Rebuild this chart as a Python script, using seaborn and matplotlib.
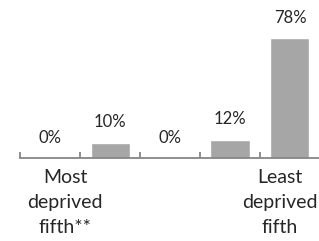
import numpy as np
import pandas as pd
import matplotlib
matplotlib.use("Agg")
import matplotlib.pyplot as plt
import seaborn as sns

# ── Data ────────────────────────────────────────────
categories = ["Q1", "Q2", "Q3", "Q4", "Q5"]
values     = [0, 10, 0, 12, 78]
value_labels = ["0%", "10%", "0%", "12%", "78%"]
cat_labels   = ["Most\ndeprived\nfifth**", "", "", "", "Least\ndeprived\nfifth"]
label_pos    = [0.25, 0, 0, 0, 3.83]   # label centres (shifted like the original)

BAR   = "#A6A6A6"
AXIS  = "#868686"
TEXT  = "#262626"

sns.set_style("white")
plt.rcParams["font.family"] = ["Lato", "DejaVu Sans"]

df = pd.DataFrame({"cat": categories, "val": values})

fig = plt.figure(figsize=(3.19, 2.41), dpi=100)
ax = fig.add_axes([20/319, (241-158)/241, 300/319, 120/241])

sns.barplot(data=df, x="cat", y="val", color=BAR, width=0.65,
            saturation=1, ax=ax)

ax.set_xlim(-0.5, 4.5)
ax.set_ylim(0, 78)
ax.set_xlabel(""); ax.set_ylabel("")
ax.set_yticks([])
ax.set_xticks(np.arange(len(categories) + 1) - 0.5)
ax.set_xticklabels([])
ax.tick_params(axis="x", bottom=True, direction="in", length=4.3,
               width=1.3, color=AXIS)
for s in ["top", "right", "left"]:
    ax.spines[s].set_visible(False)
ax.spines["bottom"].set_color(AXIS)
ax.spines["bottom"].set_linewidth(1.3)

# value labels
for i, (v, lab) in enumerate(zip(values, value_labels)):
    ax.annotate(lab, (i, v), xytext=(0, 14.5), textcoords="offset points",
                ha="center", va="center", fontsize=12, color=TEXT,
                annotation_clip=False)

# category labels
for x, lab in zip(label_pos, cat_labels):
    if lab:
        ax.annotate(lab, (x, 0), xycoords=("data", "axes fraction"),
                    xytext=(0, -8), textcoords="offset points",
                    ha="center", va="top", fontsize=14, color=TEXT,
                    linespacing=1.55, annotation_clip=False)

fig.savefig("out.png", dpi=100)
